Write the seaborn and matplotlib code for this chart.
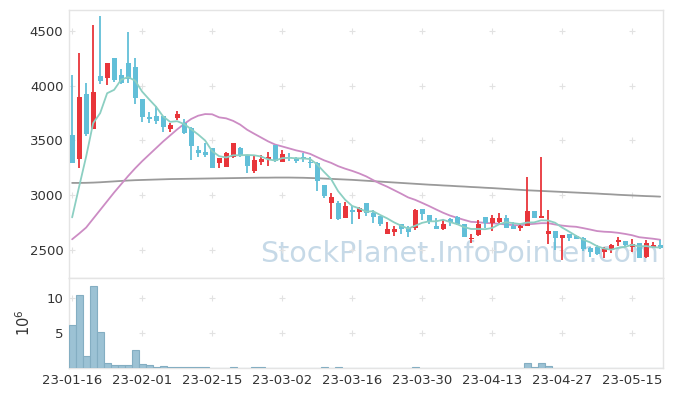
import numpy as np
import pandas as pd
import seaborn as sns
import matplotlib.pyplot as plt

# daily candles (KRW), trading-day index 0..84
opens = [3550, 3330, 3925, 3605, 4090, 4070, 4250, 4095, 4205, 4170,
         3875, 3715, 3725, 3725, 3605, 3700, 3660, 3610, 3415, 3390,
         3430, 3295, 3260, 3350, 3435, 3365, 3220, 3305, 3330, 3460,
         3305, 3350, 3330, 3345, 3305, 3295, 3095, 2930, 2925, 2795,
         2865, 2845, 2925, 2840, 2810, 2650, 2660, 2735, 2700, 2700,
         2870, 2820, 2715, 2690, 2785, 2805, 2735, 2600, 2635, 2800,
         2750, 2760, 2790, 2715, 2700, 2720, 2855, 2795, 2645, 2675,
         2610, 2645, 2630, 2610, 2520, 2530, 2480, 2500, 2575, 2580,
         2530, 2560, 2440, 2530, 2545]
highs = [4100, 4295, 4020, 4555, 4630, 4210, 4255, 4150, 4485, 4255,
         3880, 3755, 3810, 3725, 3660, 3770, 3695, 3625, 3450, 3480,
         3430, 3335, 3395, 3480, 3440, 3370, 3360, 3365, 3395, 3460,
         3415, 3385, 3345, 3385, 3345, 3300, 3095, 3020, 2945, 2940,
         2900, 2895, 2925, 2865, 2810, 2760, 2715, 2735, 2715, 2870,
         2870, 2820, 2790, 2780, 2790, 2810, 2740, 2650, 2775, 2800,
         2820, 2835, 2820, 2760, 2735, 3170, 2860, 3350, 2865, 2675,
         2640, 2650, 2635, 2615, 2525, 2545, 2530, 2555, 2620, 2585,
         2600, 2565, 2590, 2575, 2590]
lows = [3290, 3250, 3540, 3600, 4015, 4005, 4030, 4015, 4020, 3835,
        3670, 3655, 3650, 3580, 3580, 3685, 3560, 3320, 3350, 3350,
        3245, 3245, 3255, 3335, 3350, 3205, 3205, 3275, 3270, 3305,
        3305, 3315, 3290, 3300, 3245, 3040, 2970, 2785, 2775, 2795,
        2735, 2780, 2810, 2745, 2715, 2650, 2630, 2650, 2620, 2685,
        2775, 2735, 2690, 2685, 2715, 2730, 2620, 2560, 2630, 2700,
        2675, 2745, 2705, 2690, 2675, 2715, 2795, 2795, 2555, 2500,
        2410, 2580, 2600, 2490, 2440, 2455, 2425, 2470, 2540, 2530,
        2480, 2430, 2425, 2520, 2510]
closes = [3295, 3895, 3560, 3945, 4045, 4205, 4050, 4020, 4060, 3885,
          3710, 3695, 3680, 3620, 3640, 3740, 3565, 3445, 3385, 3365,
          3250, 3335, 3385, 3480, 3365, 3265, 3320, 3330, 3345, 3315,
          3375, 3335, 3315, 3335, 3290, 3130, 2995, 2985, 2785, 2905,
          2845, 2880, 2835, 2805, 2735, 2690, 2690, 2690, 2665, 2865,
          2830, 2760, 2690, 2735, 2760, 2735, 2620, 2610, 2735, 2750,
          2790, 2790, 2705, 2690, 2715, 2855, 2795, 2805, 2675, 2610,
          2635, 2610, 2605, 2510, 2485, 2460, 2510, 2550, 2590, 2545,
          2555, 2430, 2565, 2545, 2520]

ma5 = [2798, 3078, 3352, 3657, 3748, 3930, 3961, 4054, 4077, 4045,
       3945, 3874, 3806, 3718, 3669, 3675, 3649, 3602, 3554, 3499,
       3402, 3356, 3344, 3364, 3364, 3367, 3364, 3353, 3327, 3316,
       3338, 3341, 3337, 3335, 3330, 3281, 3212, 3147, 3037, 2959,
       2902, 2880, 2850, 2854, 2820, 2789, 2752, 2722, 2695, 2721,
       2748, 2762, 2762, 2776, 2755, 2736, 2709, 2692, 2692, 2690,
       2701, 2735, 2754, 2745, 2737, 2751, 2752, 2771, 2769, 2749,
       2705, 2668, 2629, 2595, 2570, 2535, 2514, 2503, 2520, 2529,
       2548, 2533, 2536, 2527, 2522]
ma20 = [2598, 2650, 2705, 2785, 2865, 2945, 3025, 3100, 3175, 3245,
        3310, 3370, 3430, 3490, 3545, 3600, 3650, 3695, 3725, 3740,
        3738, 3710, 3701, 3678, 3644, 3597, 3561, 3526, 3491, 3462,
        3445, 3427, 3409, 3395, 3377, 3347, 3318, 3295, 3265, 3242,
        3222, 3199, 3172, 3138, 3106, 3078, 3046, 3014, 2980, 2958,
        2930, 2901, 2870, 2840, 2814, 2794, 2775, 2757, 2754, 2747,
        2744, 2739, 2733, 2727, 2726, 2734, 2739, 2745, 2745, 2733,
        2723, 2716, 2712, 2700, 2687, 2673, 2667, 2664, 2657, 2647,
        2635, 2617, 2610, 2603, 2594]
ma120 = [3112, 3112, 3113, 3115, 3118, 3122, 3126, 3130, 3134, 3137,
         3139, 3141, 3143, 3145, 3147, 3148, 3149, 3150, 3151, 3152,
         3153, 3154, 3155, 3156, 3157, 3158, 3159, 3160, 3160, 3161,
         3161, 3161, 3160, 3159, 3157, 3155, 3152, 3149, 3146, 3143,
         3140, 3136, 3132, 3128, 3124, 3120, 3116, 3112, 3108, 3104,
         3100, 3096, 3093, 3089, 3086, 3082, 3079, 3075, 3072, 3068,
         3065, 3061, 3057, 3053, 3049, 3045, 3042, 3039, 3036, 3033,
         3030, 3027, 3024, 3021, 3018, 3015, 3011, 3008, 3004, 3001,
         2998, 2995, 2992, 2990, 2987]

# volume in millions of shares
volume = [6.1, 10.4, 1.7, 11.7, 5.1, 0.65, 0.4, 0.4, 0.4, 2.6,
          0.6, 0.5, 0.2, 0.3, 0.15, 0.15, 0.15, 0.15, 0.15, 0.12,
          0.05, 0.04, 0.05, 0.15, 0.04, 0.04, 0.12, 0.12, 0.04, 0.05,
          0.04, 0.03, 0.04, 0.05, 0.04, 0.06, 0.08, 0.05, 0.15, 0.06,
          0.05, 0.05, 0.04, 0.04, 0.05, 0.04, 0.03, 0.04, 0.04, 0.15,
          0.04, 0.03, 0.05, 0.04, 0.03, 0.04, 0.06, 0.05, 0.04, 0.03,
          0.05, 0.04, 0.04, 0.03, 0.05, 0.75, 0.08, 0.75, 0.3, 0.05,
          0.06, 0.04, 0.03, 0.05, 0.04, 0.04, 0.03, 0.05, 0.04, 0.03,
          0.04, 0.06, 0.05, 0.03, 0.04]

tick_labels = ['23-01-16', '23-02-01', '23-02-15', '23-03-02', '23-03-16',
               '23-03-30', '23-04-13', '23-04-27', '23-05-15']
price_ticks = [2500, 3000, 3500, 4000, 4500]
vol_ticks = [5, 10]

df = pd.DataFrame({'open': opens, 'high': highs, 'low': lows, 'close': closes,
                   'ma5': ma5, 'ma20': ma20, 'ma120': ma120, 'volume': volume})
df['idx'] = np.arange(len(df))
up = df['close'] >= df['open']

sns.set_theme(style="white")
plt.rcParams['font.family'] = ['DejaVu Sans']

fig = plt.figure(figsize=(6.73, 3.96), dpi=100)
ax1 = fig.add_axes([0.1025, 0.298, 0.8825, 0.677])
ax2 = fig.add_axes([0.1025, 0.0707, 0.8825, 0.2273])

red = '#e8353a'
blue = '#62bfd8'
colors = np.where(up, red, blue)

# wicks and bodies
ax1.vlines(df['idx'], df['low'], df['high'], colors=colors, linewidth=1.3, zorder=3)
body_lo = df[['open', 'close']].min(axis=1)
body_h = (df['close'] - df['open']).abs().clip(lower=12)
ax1.bar(df['idx'], body_h, bottom=body_lo, width=0.72, color=colors, linewidth=0, zorder=4)

sns.lineplot(data=df, x='idx', y='ma120', ax=ax1, color='#9a9a9a', linewidth=1.3, zorder=2)
sns.lineplot(data=df, x='idx', y='ma20', ax=ax1, color='#cc8cc4', linewidth=1.3, zorder=2)
sns.lineplot(data=df, x='idx', y='ma5', ax=ax1, color='#8ccfc2', linewidth=1.3, zorder=5)

sns.barplot(data=df, x='idx', y='volume', ax=ax2, native_scale=True, width=1,
            color='#9cc2d4', edgecolor='#84aec2', linewidth=0.8, saturation=1, zorder=3)

xt = np.arange(0, len(df), 10)
for ax, yt, ylim in [(ax1, price_ticks, (2245, 4690)), (ax2, vol_ticks, (0, 12.9))]:
    ax.set_xlim(-0.45, 84.4)
    ax.set_ylim(*ylim)
    ax.set_yticks(yt)
    ax.set_xticks(xt)
    gx, gy = np.meshgrid(xt, yt)
    ax.scatter(gx.ravel(), gy.ravel(), marker='+', s=24, color='#e2e2e2',
               linewidths=0.8, zorder=1)
    for s in ax.spines.values():
        s.set_color('#e4e4e4')
        s.set_linewidth(1)
    ax.tick_params(length=0, labelsize=9.5, labelcolor='#333333', pad=4)
    ax.set_xlabel('')
    ax.set_ylabel('')

ax1.set_xticklabels([])
ax2.set_xticklabels(tick_labels)
ax2.set_yticklabels(['5', '10'])
ax2.set_ylabel('$10^{6}$', fontsize=10.5, color='#333333', labelpad=10)

ax1.text(0.657, 0.09, 'StockPlanet.InfoPointer.com', transform=ax1.transAxes,
         ha='center', va='center', fontsize=20.5, color='#b3cde0', alpha=0.75,
         zorder=0)

fig.savefig('out.png', dpi=100)
